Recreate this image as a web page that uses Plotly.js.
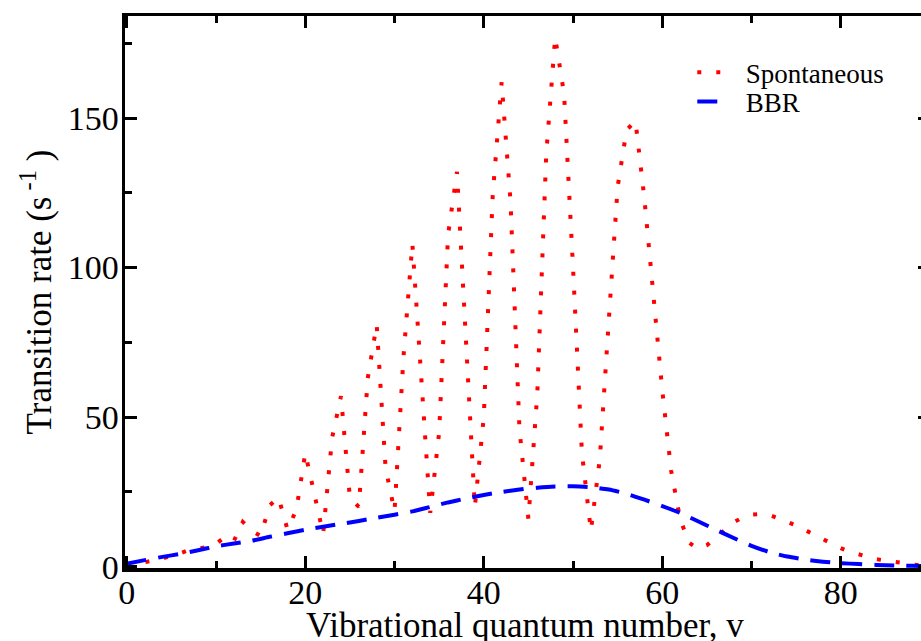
<!DOCTYPE html>
<html>
<head>
<meta charset="utf-8">
<script src="https://cdn.plot.ly/plotly-3.0.1.min.js"></script>
<style>
html, body { margin: 0; padding: 0; overflow: hidden; background: #fff; }
#chart { width: 940px; height: 680px; }
</style>
</head>
<body>
<div id="chart"></div>
<script>
// Vibrational quantum number v
var vib = [0,1,2,3,4,5,6,7,8,9,10,11,12,13,14,15,16,17,18,19,20,21,22,23,24,25,26,27,28,29,
           30,31,32,33,34,35,36,37,38,39,40,41,42,43,44,45,46,47,48,49,50,51,52,53,54,55,56,57,58,59,
           60,61,62,63,64,65,66,67,68,69,70,71,72,73,74,75,76,77,78,79,80,81,82,83,84,85,86,87,88,89];

// Spontaneous transition rate (s^-1)
var spontaneous = [0.3,0.8,1.4,2.1,2.8,3.6,4.5,5.6,6.2,6.6,7.6,10.0,8.6,15.0,12.0,10.3,20.5,23.2,12.5,19.0,
                   38.0,25.0,11.0,43.0,57.0,23.0,20.0,63.0,81.0,33.0,18.5,70.0,108.0,63.0,18.0,45.0,111.0,132.0,77.0,20.0,
                   50.0,124.0,162.0,122.0,46.0,16.0,58.0,138.0,177.0,158.0,100.0,38.0,12.0,36.0,82.0,127.0,146.0,149.0,123.0,91.0,
                   59.0,32.0,16.0,8.0,6.0,7.2,9.5,12.2,14.8,16.5,17.4,17.6,17.3,16.3,15.0,13.8,12.3,10.8,9.1,7.7,
                   6.2,5.0,4.1,3.1,2.5,2.1,1.7,1.1,0.6,0.4];

// BBR-induced transition rate (s^-1)
var bbrV = [0,2,4,6,8,10,12,14,16,18,20,22,24,26,28,30,32,34,36,38,40,42,44,46,48,50,52,54,56,58,
            60,62,64,66,68,70,72,74,76,78,80,82,84,86,88,90];
var bbr = [1.0,2.2,3.3,4.3,5.5,6.8,7.8,8.7,10.0,11.2,12.4,13.4,14.3,15.3,16.4,17.4,18.5,20.0,21.5,22.8,
           24.0,25.0,25.8,26.4,26.8,26.9,26.6,25.8,24.4,22.4,20.3,18.0,15.2,12.4,9.6,7.0,4.9,3.4,2.4,1.7,
           1.2,0.9,0.6,0.4,0.3,0.2];

var seriesNames = ['\u2002Spontaneous', '\u2002BBR'];
var xTitle = 'Vibrational quantum number, v';
var yTitle = 'Transition rate (s<sup> -1</sup> )';

var FONT = '"Liberation Serif", "Times New Roman", serif';

var traces = [
  {
    x: vib, y: spontaneous, type: 'scatter', mode: 'lines', name: seriesNames[0],
    line: { color: '#ff0000', width: 4, dash: '4px,15px' },
    legend: 'legend'
  },
  {
    x: bbrV, y: bbr, type: 'scatter', mode: 'lines', name: seriesNames[1],
    line: { color: '#0000ff', width: 4, dash: '20px,12px', shape: 'spline', smoothing: 0.6 },
    legend: 'legend2'
  }
];

var axisCommon = {
  showgrid: false, zeroline: false, showline: true, linecolor: '#000', linewidth: 3.5,
  mirror: 'ticks', ticks: 'inside', ticklen: 12, tickwidth: 3, tickcolor: '#000',
  tickfont: { family: FONT, size: 34, color: '#000' }
};

var layout = {
  width: 940, height: 680,
  margin: { l: 124.75, r: 10.2, t: 16.45, b: 111.75, pad: 0 },
  paper_bgcolor: '#fff', plot_bgcolor: '#fff',
  font: { family: FONT, color: '#000' },
  xaxis: Object.assign({}, axisCommon, {
    range: [-0.2, 90], tickmode: 'linear', tick0: 0, dtick: 20, ticklabelstandoff: -8,
    minor: { dtick: 10, ticks: 'inside', ticklen: 7, tickwidth: 3, tickcolor: '#000', showgrid: false }
  }),
  yaxis: Object.assign({}, axisCommon, {
    range: [-0.42, 184.1], tickmode: 'linear', tick0: 0, dtick: 50, ticklabelstandoff: -4,
    minor: { dtick: 25, ticks: 'inside', ticklen: 7, tickwidth: 3, tickcolor: '#000', showgrid: false },
    title: { text: yTitle, font: { family: FONT, size: 35, color: '#000' }, standoff: 6 }
  }),
  annotations: [
    { text: xTitle, xref: 'paper', yref: 'paper', x: 0.4975, y: -0.0644, xanchor: 'center', yanchor: 'top',
      showarrow: false, font: { family: FONT, size: 35, color: '#000' } }
  ],
  showlegend: true,
  legend: { x: 0.7047, y: 0.9415, xanchor: 'left', yanchor: 'top', bgcolor: 'rgba(0,0,0,0)',
            font: { family: FONT, size: 27, color: '#000' }, borderwidth: 0 },
  legend2: { x: 0.7047, y: 0.8885, xanchor: 'left', yanchor: 'top', bgcolor: 'rgba(0,0,0,0)',
            font: { family: FONT, size: 27, color: '#000' }, borderwidth: 0 }
};

Plotly.newPlot('chart', traces, layout, { displayModeBar: false, staticPlot: true });
</script>
</body>
</html>
